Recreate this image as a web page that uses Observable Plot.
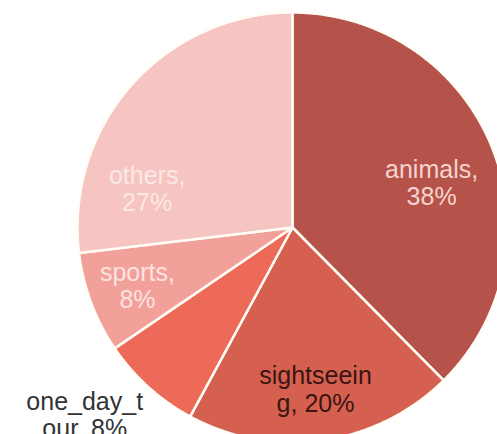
<!DOCTYPE html>
<html><head><meta charset="utf-8">
<script src="https://cdn.jsdelivr.net/npm/d3@7"></script>
<script src="https://cdn.jsdelivr.net/npm/@observablehq/plot@0.6"></script>
<style>html,body{margin:0;padding:0;background:#fff;overflow:hidden}</style>
</head><body><div id="chart"></div>
<script>
// Data
const categories = ["animals", "sightseeing", "one_day_tour", "sports", "others"];
const values = [37.6, 20.3, 7.6, 7.6, 26.9];
const labelTexts = ["animals,\n38%", "sightseein\ng, 20%", "one_day_t\nour, 8%", "sports,\n8%", "others,\n27%"];

// Styles / layout
const sliceColors = ["#b5534a", "#d66050", "#ee6a58", "#f2a09a", "#f6c4c1"];
const labelColors = ["#f7d3cf", "#3a1511", "#333333", "#fde3e0", "#fce8e6"];
const labelShift = [4.4, 0, 5.9, 0, -26.6];      // degrees, relative to slice mid-angle
const labelRadius = [0.68, 0.76, 1.30, 0.77, 0.70]; // fraction of pie radius

const data = categories.map((name, i) => ({name, value: values[i], label: labelTexts[i], i}));
const arcs = d3.pie().sort(null).value(d => d.value)(data);

const points = [];
const labelPts = [];
for (const a of arcs) {
  const name = a.data.name;
  points.push({name, x: 0, y: 0});
  const n = Math.max(2, Math.ceil((a.endAngle - a.startAngle) / (Math.PI / 360)));
  for (let k = 0; k <= n; k++) {
    const t = a.startAngle + (a.endAngle - a.startAngle) * k / n;
    points.push({name, x: Math.sin(t), y: Math.cos(t)});
  }
  const i = a.data.i;
  const mid = (a.startAngle + a.endAngle) / 2 + labelShift[i] * Math.PI / 180;
  labelPts.push({label: a.data.label, x: labelRadius[i] * Math.sin(mid), y: labelRadius[i] * Math.cos(mid), color: labelColors[i]});
}

const font = "'Liberation Sans', Arial, Helvetica, sans-serif";
const plot = Plot.plot({
  width: 497,
  height: 434,
  margin: 0,
  style: {fontFamily: font, background: "#fff"},
  x: {domain: [-1, 1], range: [77, 507], axis: null},
  y: {domain: [-1, 1], range: [442, 12], axis: null},
  color: {domain: categories, range: sliceColors},
  marks: [
    Plot.line(points, {x: "x", y: "y", z: "name", fill: "name", stroke: "#fffdf6", strokeWidth: 2.5, strokeLinejoin: "round", curve: "linear-closed"}),
    ...labelPts.map(l => Plot.text([l], {x: "x", y: "y", text: "label", fill: l.color, fontSize: 25, lineHeight: 1.1, fontFamily: font}))
  ]
});
document.getElementById("chart").appendChild(plot);
</script>
</body></html>
